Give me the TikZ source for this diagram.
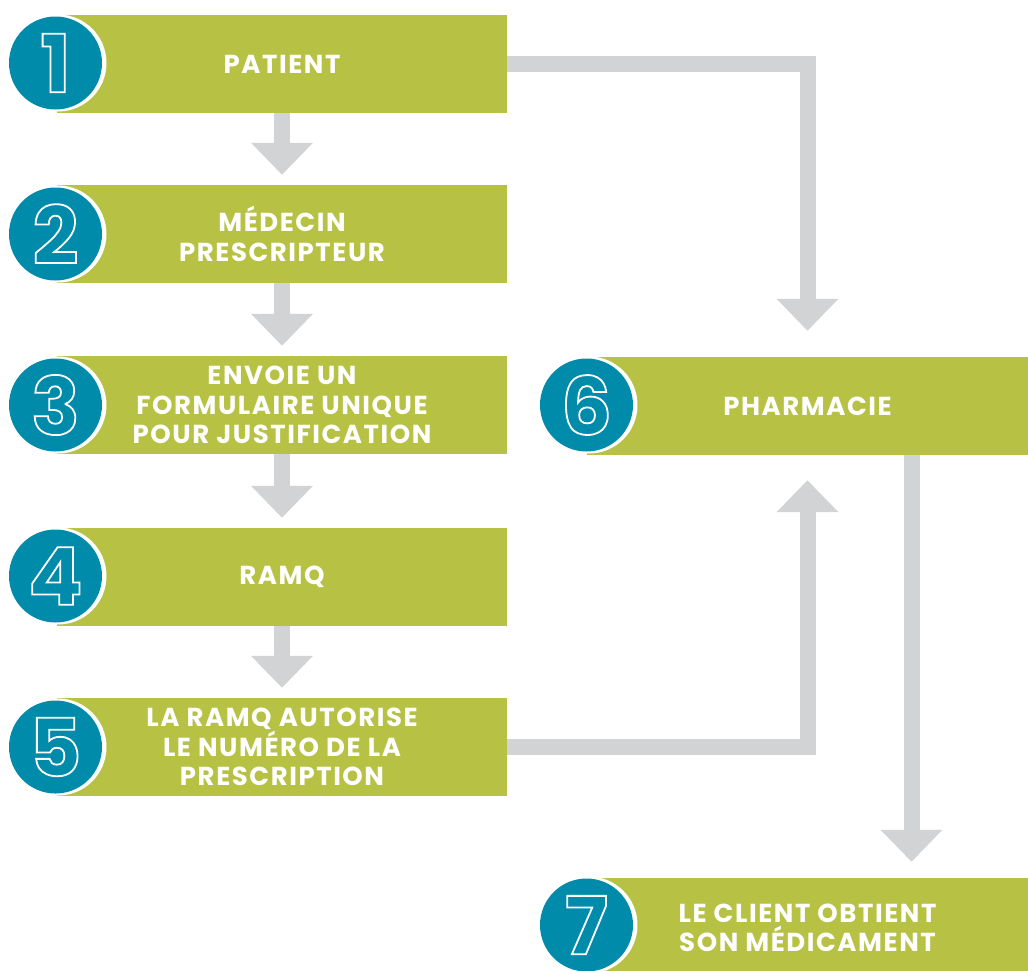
\documentclass[tikz,border=0pt]{standalone}
\usepackage{fontspec}
\usetikzlibrary{arrows.meta}
\newfontfamily\stepfont{Poppins}[LetterSpace=6]
\newfontfamily\digitfont{Poppins}
\definecolor{stepgreen}{RGB}{183,194,69}
\definecolor{badgeblue}{RGB}{0,139,171}
\definecolor{flowgray}{RGB}{209,211,212}
% hollow digits: stroke the glyph outline only
\newcommand{\hollow}[1]{\special{pdf:literal direct 1 Tr 1.8 w}#1\special{pdf:literal direct 0 Tr}}

\begin{document}
\begin{tikzpicture}[
  x=1pt, y=-1pt,
  stepbox/.style={fill=stepgreen, minimum height=98pt, inner sep=0pt, text=white, align=center,
                  font=\stepfont\bfseries\fontsize{26}{29.5}\selectfont},
  ring/.style={circle, fill=white, minimum size=97pt, inner sep=0pt},
  badge/.style={circle, fill=badgeblue, minimum size=93pt, inner sep=0pt, text=white,
                font=\digitfont\bfseries\fontsize{80}{80}\selectfont},
  conn/.style={draw=flowgray, line width=16pt, -{Triangle[width=60pt,length=32pt]}},
]
\useasboundingbox (0,0) rectangle (1028,970);

% left column
\node[stepbox, minimum width=450pt] (b1) at (282,64)  {PATIENT};
\node[stepbox, minimum width=450pt] (b2) at (282,234) {MÉDECIN\\PRESCRIPTEUR};
\node[stepbox, minimum width=450pt] (b3) at (282,405) {ENVOIE UN\\FORMULAIRE UNIQUE\\POUR JUSTIFICATION};
\node[stepbox, minimum width=450pt] (b4) at (282,577) {RAMQ};
\node[stepbox, minimum width=450pt] (b5) at (282,747) {LA RAMQ AUTORISE\\LE NUMÉRO DE LA\\PRESCRIPTION};
% right column
\node[stepbox, minimum width=441pt] (b6) at (807.5,406) {PHARMACIE};
\node[stepbox, minimum width=441pt, minimum height=100pt] (b7) at (807.5,928) {LE CLIENT OBTIENT\\SON MÉDICAMENT};

% numbered badges
\foreach \i/\cx/\cy in {1/55.5/63, 2/55.5/234, 3/55.5/405, 4/55.5/576, 5/55.5/747, 6/586.5/405, 7/586.5/925}{
  \node[ring] (r\i) at (\cx+2.5,\cy) {};
  \node[badge] (n\i) at (\cx,\cy) {\hollow{\i}};
}

% connectors
\foreach \a/\b in {1/2, 2/3, 3/4, 4/5}{
  \draw[conn, shorten >=10pt] (b\a.south) -- (b\b.north);
}
\draw[conn, shorten >=26pt] (b1.east) -| (b6.north);
\draw[conn, shorten >=25pt] (b5.east) -| (b6.south);
\draw[conn, shorten >=16pt] ([xshift=104pt]b6.south) -- ([xshift=104pt]b7.north);
\end{tikzpicture}
\end{document}
